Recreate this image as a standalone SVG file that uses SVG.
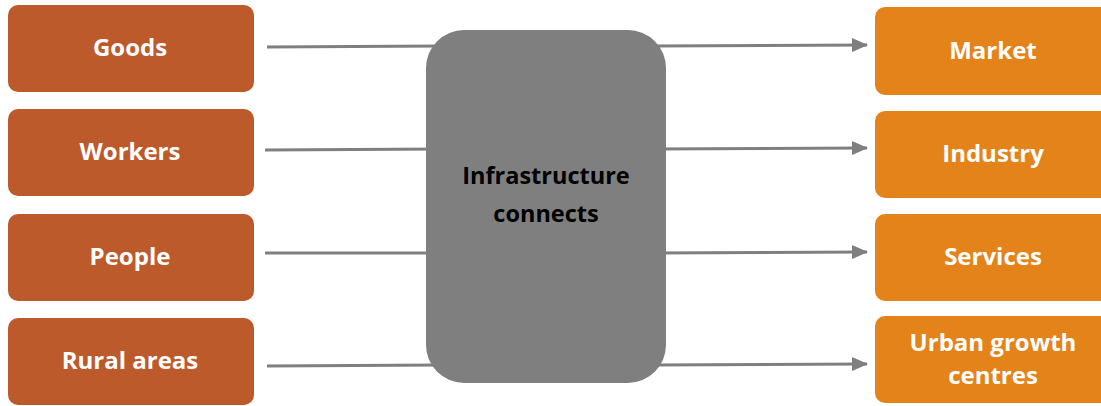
<svg xmlns="http://www.w3.org/2000/svg" width="1101" height="406" viewBox="0 0 1101 406">
<defs>
<marker id="ah" markerWidth="16" markerHeight="14" refX="15" refY="7" orient="auto" markerUnits="userSpaceOnUse">
<path d="M0,0 L16,7 L0,14 Z" fill="#7f7f7f"/>
</marker>
<style>
.l{fill:#bd5a2c}
.r{fill:#e4831a}
.t{font-family:"Open Sans","Noto Sans",sans-serif;font-weight:bold;font-size:24px;fill:#fff;text-anchor:middle}
.c{font-family:"Open Sans","Noto Sans",sans-serif;font-weight:bold;font-size:23.5px;fill:#000;text-anchor:middle}
.ln{stroke:#7f7f7f;stroke-width:3;fill:none}
</style>
</defs>
<rect width="1101" height="406" fill="#fff"/>
<g id="connectors">
<line class="ln" x1="267" y1="47" x2="440" y2="46"/>
<line class="ln" x1="265" y1="150" x2="440" y2="149"/>
<line class="ln" x1="265" y1="253" x2="440" y2="253"/>
<line class="ln" x1="267" y1="366" x2="440" y2="365"/>
<line class="ln" x1="655" y1="46" x2="867" y2="45" marker-end="url(#ah)"/>
<line class="ln" x1="655" y1="149" x2="867" y2="148" marker-end="url(#ah)"/>
<line class="ln" x1="655" y1="253" x2="867" y2="252" marker-end="url(#ah)"/>
<line class="ln" x1="655" y1="365" x2="867" y2="364" marker-end="url(#ah)"/>
</g>
<g id="hub">
<rect x="426" y="30" width="240" height="353" rx="38" fill="#7f7f7f"/>
<text class="c" x="546" y="184">Infrastructure</text>
<text class="c" x="546" y="222">connects</text>
</g>
<g id="goods"><rect class="l" x="8" y="5" width="246" height="87" rx="10"/><text class="t" x="130" y="56">Goods</text></g>
<g id="workers"><rect class="l" x="8" y="109" width="246" height="87" rx="10"/><text class="t" x="130" y="160">Workers</text></g>
<g id="people"><rect class="l" x="8" y="214" width="246" height="87" rx="10"/><text class="t" x="130" y="265">People</text></g>
<g id="rural"><rect class="l" x="8" y="318" width="246" height="87" rx="10"/><text class="t" x="130" y="369">Rural areas</text></g>
<g id="market"><rect class="r" x="875" y="7" width="240" height="88" rx="10"/><text class="t" x="993" y="59">Market</text></g>
<g id="industry"><rect class="r" x="875" y="111" width="240" height="87" rx="10"/><text class="t" x="993" y="162">Industry</text></g>
<g id="services"><rect class="r" x="875" y="214" width="240" height="87" rx="10"/><text class="t" x="993" y="265">Services</text></g>
<g id="urban"><rect class="r" x="875" y="316" width="240" height="87" rx="10"/><text class="t" x="993" y="351">Urban growth</text><text class="t" x="993" y="384">centres</text></g>
</svg>
